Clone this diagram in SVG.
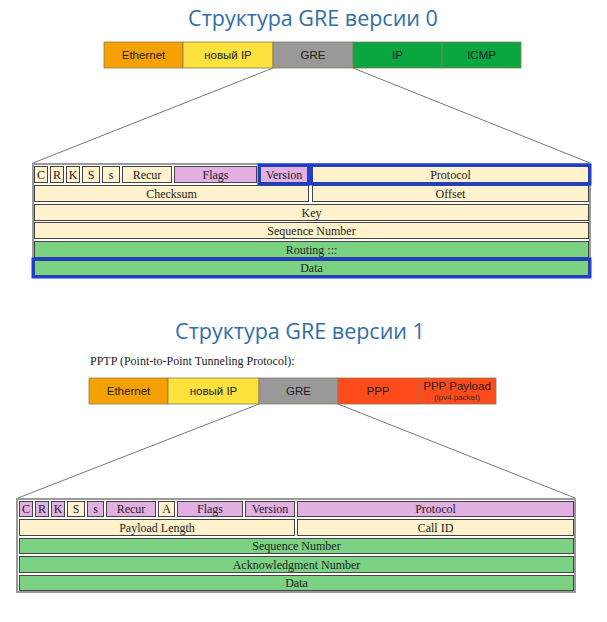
<svg xmlns="http://www.w3.org/2000/svg" width="607" height="622" viewBox="0 0 607 622">
<style>
.title{font-family:"Open Sans","Liberation Sans",sans-serif;font-size:21.5px;fill:#2f6ea6;text-anchor:middle}
.bt{font-family:"Liberation Sans",Arial,sans-serif;font-size:11.5px;fill:#222;text-anchor:middle}
.bt2{font-family:"Liberation Sans",Arial,sans-serif;font-size:8px;fill:#333;text-anchor:middle}
.bar{stroke:#8a7a5a;stroke-width:0.8}
.c{stroke:#444;stroke-width:1}
.cr{fill:#fff2cc}
.pu{fill:#e2b0e2}
.gr{fill:#7bd283}
.blue{fill:none;stroke:#1a3fd6;stroke-width:3}
.tt{font-family:"Liberation Serif","Times New Roman",serif;font-size:12px;fill:#222;text-anchor:middle}
.outer{fill:#fff;stroke:#9a9a9a;stroke-width:2}
.ln{stroke:#777;stroke-width:1;fill:none}
</style>
<rect width="607" height="622" fill="#fff"/>

<text class="title" x="313" y="26">Структура GRE версии 0</text>

<g id="connectors">
<line class="ln" x1="273" y1="68" x2="33" y2="163"/>
<line class="ln" x1="353" y1="68" x2="590" y2="163"/>
<line class="ln" x1="259" y1="404" x2="18" y2="498"/>
<line class="ln" x1="338" y1="404" x2="575" y2="498"/>
</g>

<g id="bar0">
<rect class="bar" x="104" y="42" width="79" height="26" fill="#f5a100"/>
<rect class="bar" x="183" y="42" width="90" height="26" fill="#fde23e"/>
<rect class="bar" x="273" y="42" width="80" height="26" fill="#999"/>
<rect class="bar" x="353" y="42" width="89" height="26" fill="#0aa640"/>
<rect class="bar" x="442" y="42" width="79" height="26" fill="#0aa640"/>
<text class="bt" x="143.5" y="59">Ethernet</text>
<text class="bt" x="228" y="59">новый IP</text>
<text class="bt" x="313" y="59">GRE</text>
<text class="bt" x="397.5" y="59">IP</text>
<text class="bt" x="481.5" y="59">ICMP</text>
</g>

<g id="table0">
<rect class="outer" x="33" y="164" width="557" height="113"/>
<rect class="c cr" x="34.5" y="166.5" width="13" height="16"/>
<rect class="c cr" x="50.5" y="166.5" width="13" height="16"/>
<rect class="c cr" x="66.5" y="166.5" width="13" height="16"/>
<rect class="c cr" x="82.5" y="166.5" width="17" height="16"/>
<rect class="c cr" x="102.5" y="166.5" width="17" height="16"/>
<rect class="c cr" x="122.5" y="166.5" width="49" height="16"/>
<rect class="c pu" x="174.5" y="166.5" width="82" height="16"/>
<rect class="c pu" x="260.5" y="166.5" width="47" height="16"/>
<rect class="c cr" x="312.5" y="166.5" width="276" height="16"/>
<rect class="c cr" x="34.5" y="185.5" width="274" height="16"/>
<rect class="c cr" x="312.5" y="185.5" width="276" height="16"/>
<rect class="c cr" x="34.5" y="204.5" width="554" height="16"/>
<rect class="c cr" x="34.5" y="222.5" width="554" height="16"/>
<rect class="c gr" x="34.5" y="241.5" width="554" height="16"/>
<rect class="c gr" x="34.5" y="260.5" width="554" height="15"/>
<rect class="blue" x="259" y="165" width="50" height="19"/>
<rect class="blue" x="311" y="165" width="279" height="19"/>
<rect class="blue" x="33" y="259" width="557" height="18"/>
<text class="tt" x="41" y="179">C</text>
<text class="tt" x="57" y="179">R</text>
<text class="tt" x="73" y="179">K</text>
<text class="tt" x="91" y="179">S</text>
<text class="tt" x="111" y="179">s</text>
<text class="tt" x="147" y="179">Recur</text>
<text class="tt" x="215.5" y="179">Flags</text>
<text class="tt" x="284" y="179">Version</text>
<text class="tt" x="450.5" y="179">Protocol</text>
<text class="tt" x="171.5" y="198">Checksum</text>
<text class="tt" x="450.5" y="198">Offset</text>
<text class="tt" x="311.5" y="217">Key</text>
<text class="tt" x="311.5" y="235">Sequence Number</text>
<text class="tt" x="311.5" y="254">Routing :::</text>
<text class="tt" x="311.5" y="272">Data</text>
</g>

<text class="title" x="300" y="339">Структура GRE версии 1</text>
<text x="90" y="365" font-family="Liberation Serif,'Times New Roman',serif" font-size="12" fill="#222">PPTP (Point-to-Point Tunneling Protocol):</text>

<g id="bar1">
<rect class="bar" x="89" y="378" width="79" height="26" fill="#f5a100"/>
<rect class="bar" x="168" y="378" width="91" height="26" fill="#fde23e"/>
<rect class="bar" x="259" y="378" width="79" height="26" fill="#999"/>
<rect class="bar" x="338" y="378" width="80" height="26" fill="#ff4a1c"/>
<rect class="bar" x="418" y="378" width="78" height="26" fill="#ff4a1c"/>
<text class="bt" x="128.5" y="395">Ethernet</text>
<text class="bt" x="213.5" y="395">новый IP</text>
<text class="bt" x="298.5" y="395">GRE</text>
<text class="bt" x="378" y="395">PPP</text>
<text class="bt" x="457" y="390">PPP Payload</text>
<text class="bt2" x="457" y="400">(ipv4 packet)</text>
</g>

<g id="table1">
<rect class="outer" x="17" y="499" width="558" height="93"/>
<rect class="c pu" x="19.5" y="501.5" width="13" height="15"/>
<rect class="c pu" x="35.5" y="501.5" width="13" height="15"/>
<rect class="c pu" x="51.5" y="501.5" width="13" height="15"/>
<rect class="c cr" x="67.5" y="501.5" width="17" height="15"/>
<rect class="c pu" x="87.5" y="501.5" width="16" height="15"/>
<rect class="c pu" x="106.5" y="501.5" width="49" height="15"/>
<rect class="c cr" x="158.5" y="501.5" width="16" height="15"/>
<rect class="c pu" x="177.5" y="501.5" width="65" height="15"/>
<rect class="c pu" x="245.5" y="501.5" width="49" height="15"/>
<rect class="c pu" x="297.5" y="501.5" width="276" height="15"/>
<rect class="c cr" x="19.5" y="519.5" width="275" height="16"/>
<rect class="c cr" x="297.5" y="519.5" width="276" height="16"/>
<rect class="c gr" x="19.5" y="538.5" width="554" height="15"/>
<rect class="c gr" x="19.5" y="556.5" width="554" height="16"/>
<rect class="c gr" x="19.5" y="575.5" width="554" height="15"/>
<text class="tt" x="26" y="513">C</text>
<text class="tt" x="42" y="513">R</text>
<text class="tt" x="58" y="513">K</text>
<text class="tt" x="76" y="513">S</text>
<text class="tt" x="95.5" y="513">s</text>
<text class="tt" x="131" y="513">Recur</text>
<text class="tt" x="166.5" y="513">A</text>
<text class="tt" x="210" y="513">Flags</text>
<text class="tt" x="270" y="513">Version</text>
<text class="tt" x="435.5" y="513">Protocol</text>
<text class="tt" x="157" y="532">Payload Length</text>
<text class="tt" x="435.5" y="532">Call ID</text>
<text class="tt" x="296.5" y="550">Sequence Number</text>
<text class="tt" x="296.5" y="569">Acknowledgment Number</text>
<text class="tt" x="296.5" y="587">Data</text>
</g>
</svg>
